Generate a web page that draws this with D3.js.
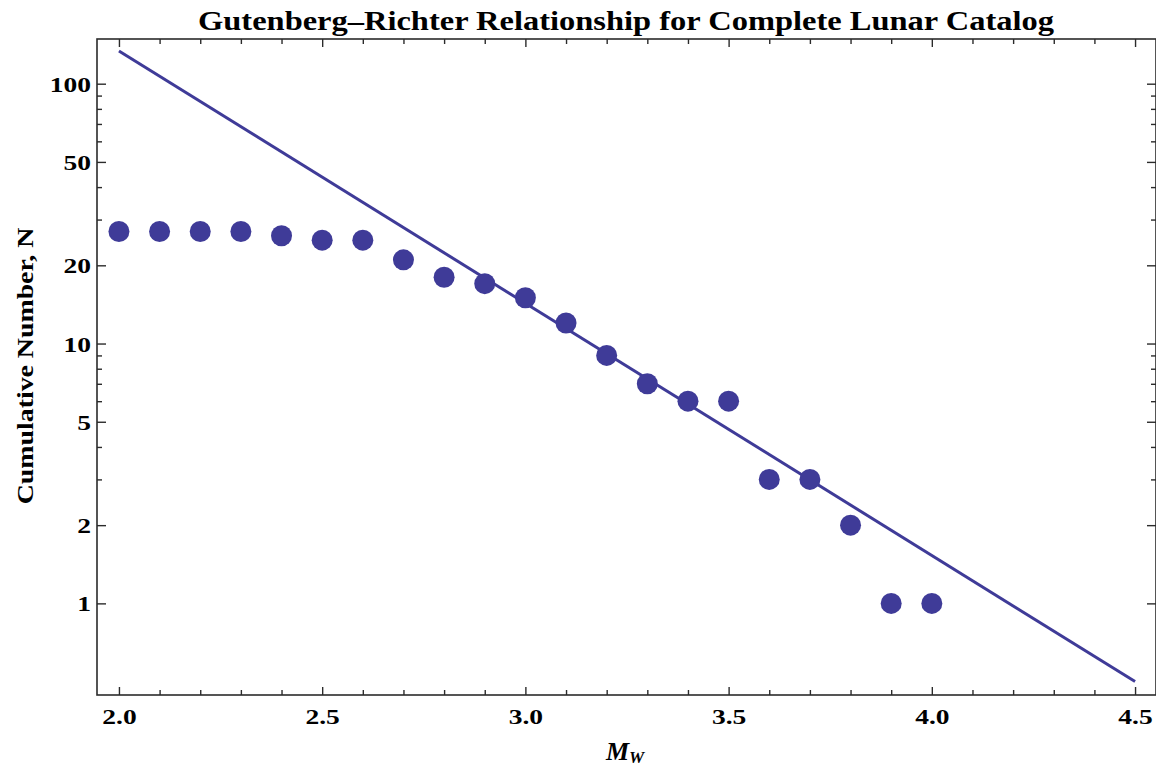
<!DOCTYPE html>
<html>
<head>
<meta charset="utf-8">
<script src="https://cdn.jsdelivr.net/npm/d3@7"></script>
<style>
  html, body { margin: 0; padding: 0; background: #fff; }
  svg { display: block; }
  text { font-family: "Liberation Serif", "Times New Roman", serif; font-weight: bold; fill: #000; }
</style>
</head>
<body>
<svg id="chart" width="1156" height="770"></svg>
<script>
// ---- data ----
const magnitudes = [2.0, 2.1, 2.2, 2.3, 2.4, 2.5, 2.6, 2.7, 2.8, 2.9, 3.0, 3.1, 3.2, 3.3, 3.4, 3.5, 3.6, 3.7, 3.8, 3.9, 4.0];
const cumulativeN = [27, 27, 27, 27, 26, 25, 25, 21, 18, 17, 15, 12, 9, 7, 6, 6, 3, 3, 2, 1, 1];
const fitM = [2.0, 4.5];
const fitN = [133.6, 0.5];
const xMajorTicks = [2.0, 2.5, 3.0, 3.5, 4.0, 4.5];
const xMinorTicks = [2.1, 2.2, 2.3, 2.4, 2.6, 2.7, 2.8, 2.9, 3.1, 3.2, 3.3, 3.4, 3.6, 3.7, 3.8, 3.9, 4.1, 4.2, 4.3, 4.4];
const yMajorTicks = [1, 2, 5, 10, 20, 50, 100];
const yMinorTicks = [3, 4, 6, 7, 8, 9, 30, 40, 60, 70, 80, 90];
const titleText = "Gutenberg\u2013Richter Relationship for Complete Lunar Catalog";
const yLabelText = "Cumulative Number, N";

// ---- layout ----
const pL = 97, pR = 1157, pT = 39, pB = 695;
const color = "#3f3b98";
const axisColor = "#2b2b2b";
const tickFont = 22, tickStretch = 1.25;

const svg = d3.select("#chart");
const x = d3.scaleLinear().domain([1.946, 4.554]).range([pL, pR]);
const y = d3.scaleLog().domain([0.444, 148.6]).range([pB, pT]);

function styleAxis(g) {
  g.select(".domain").remove();
  g.selectAll(".tick line").attr("stroke", axisColor).attr("stroke-width", 1.4);
  g.selectAll(".tick text").attr("font-size", tickFont).attr("fill", "#000")
    .style("font-family", '"Liberation Serif", serif').style("font-weight", "bold");
}

// bottom axis
svg.append("g").attr("transform", `translate(0,${pB})`)
  .call(d3.axisBottom(x).tickValues(xMajorTicks).tickSizeInner(-8).tickSizeOuter(0).tickFormat(d3.format(".1f")))
  .call(styleAxis)
  .call(g => g.selectAll(".tick text").attr("y", 29).attr("dy", 0)
    .attr("transform", `scale(${tickStretch},1)`));
svg.append("g").attr("transform", `translate(0,${pB})`)
  .call(d3.axisBottom(x).tickValues(xMinorTicks).tickSizeInner(-5).tickSizeOuter(0).tickFormat(""))
  .call(styleAxis);
// top axis
svg.append("g").attr("transform", `translate(0,${pT})`)
  .call(d3.axisTop(x).tickValues(xMajorTicks).tickSizeInner(-8).tickSizeOuter(0).tickFormat(""))
  .call(styleAxis);
svg.append("g").attr("transform", `translate(0,${pT})`)
  .call(d3.axisTop(x).tickValues(xMinorTicks).tickSizeInner(-5).tickSizeOuter(0).tickFormat(""))
  .call(styleAxis);
// left axis
svg.append("g").attr("transform", `translate(${pL},0)`)
  .call(d3.axisLeft(y).tickValues(yMajorTicks).tickSizeInner(-9).tickSizeOuter(0).tickFormat(d3.format("d")))
  .call(styleAxis)
  .call(g => g.selectAll(".tick text").attr("x", -6 / tickStretch).attr("dy", "0.34em")
    .attr("transform", `scale(${tickStretch},1)`));
svg.append("g").attr("transform", `translate(${pL},0)`)
  .call(d3.axisLeft(y).tickValues(yMinorTicks).tickSizeInner(-5).tickSizeOuter(0).tickFormat(""))
  .call(styleAxis);
// right axis
svg.append("g").attr("transform", `translate(${pR - 1},0)`)
  .call(d3.axisRight(y).tickValues(yMajorTicks).tickSizeInner(-9).tickSizeOuter(0).tickFormat(""))
  .call(styleAxis);
svg.append("g").attr("transform", `translate(${pR - 1},0)`)
  .call(d3.axisRight(y).tickValues(yMinorTicks).tickSizeInner(-5).tickSizeOuter(0).tickFormat(""))
  .call(styleAxis);

// frame
svg.append("rect").attr("x", pL).attr("y", pT)
  .attr("width", pR - pL - 1).attr("height", pB - pT)
  .attr("fill", "none").attr("stroke", axisColor).attr("stroke-width", 1.6);

// fit line
const fitData = fitM.map((m, i) => ({ m, n: fitN[i] }));
svg.append("path").datum(fitData)
  .attr("d", d3.line().x(d => x(d.m)).y(d => y(d.n)))
  .attr("fill", "none").attr("stroke", color).attr("stroke-width", 3);

// points
const pts = magnitudes.map((m, i) => ({ m, n: cumulativeN[i] }));
svg.append("g").selectAll("circle").data(pts).join("circle")
  .attr("cx", d => x(d.m)).attr("cy", d => y(d.n)).attr("r", 10.5)
  .attr("fill", color);

// title
svg.append("text").attr("transform", `translate(${(pL + pR) / 2 - 1},30) scale(1.16,1)`)
  .attr("text-anchor", "middle").attr("font-size", 28).text(titleText);

// y label
svg.append("text")
  .attr("transform", `translate(33,366) rotate(-90) scale(1.16,1)`)
  .attr("text-anchor", "middle").attr("font-size", 24).text(yLabelText);

// x label
const xl = svg.append("text").attr("x", 625).attr("y", 760)
  .attr("text-anchor", "middle").attr("font-size", 26).style("font-style", "italic");
xl.append("tspan").text("M");
xl.append("tspan").attr("font-size", 17).attr("dy", 3).text("W");
</script>
</body>
</html>
